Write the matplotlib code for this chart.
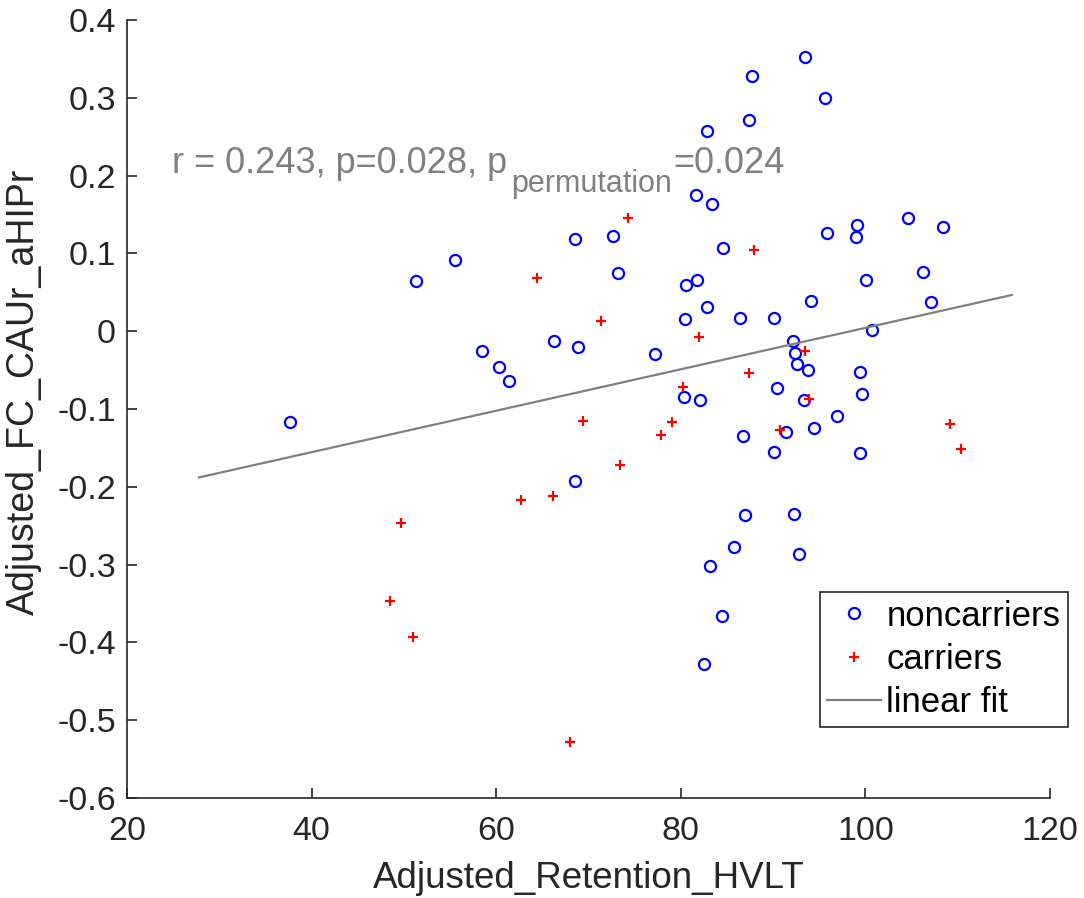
import numpy as np
import matplotlib
matplotlib.use('agg')
import matplotlib.pyplot as plt

# noncarriers (blue circles)
nc_x = [37.7, 51.3, 55.5, 58.5, 60.3, 61.4, 66.3, 68.9, 68.5, 68.5,
        72.7, 73.2, 77.2, 81.6, 83.4, 82.8, 87.4, 87.7, 93.5, 95.6,
        84.6, 81.8, 80.6, 82.8, 80.5, 86.4, 90.1, 94.1, 95.8, 99.1,
        99.0, 104.6, 108.4, 106.2, 100.1, 107.1, 100.7, 92.2, 92.4, 92.6,
        93.8, 99.4, 90.4, 99.6, 80.4, 82.1, 93.3, 96.9, 94.4, 91.4,
        86.7, 90.1, 99.4, 87.0, 92.3, 85.8, 92.8, 83.2, 84.5, 82.5]
nc_y = [-0.117, 0.064, 0.092, -0.025, -0.046, -0.064, -0.012, -0.020, 0.118, -0.193,
        0.122, 0.075, -0.029, 0.175, 0.163, 0.257, 0.271, 0.328, 0.352, 0.300,
        0.107, 0.066, 0.059, 0.031, 0.016, 0.017, 0.017, 0.039, 0.126, 0.137,
        0.121, 0.146, 0.134, 0.076, 0.066, 0.037, 0.001, -0.013, -0.028, -0.042,
        -0.050, -0.052, -0.073, -0.081, -0.084, -0.088, -0.089, -0.109, -0.125, -0.129,
        -0.135, -0.155, -0.156, -0.236, -0.235, -0.278, -0.287, -0.302, -0.366, -0.428]

# carriers (red plus)
c_x = [64.4, 74.3, 87.9, 71.4, 82.0, 93.5, 87.4, 80.2, 93.9, 69.4, 79.0,
       77.9, 73.4, 90.8, 109.2, 110.4, 62.7, 66.2, 49.7, 48.5, 51.0, 68.0]
c_y = [0.068, 0.146, 0.104, 0.013, -0.008, -0.026, -0.054, -0.072, -0.087, -0.116, -0.117,
       -0.134, -0.172, -0.127, -0.119, -0.151, -0.217, -0.212, -0.247, -0.347, -0.393, -0.528]

# linear fit
fit_slope = 0.002663
fit_intercept = -0.262
fit_range = [27.8, 115.85]

stat_text = 'r = 0.243, p=0.028, p'
stat_sub = 'permutation'
stat_end = '=0.024'

x_ticks = [20, 40, 60, 80, 100, 120]
y_ticks = [-0.6, -0.5, -0.4, -0.3, -0.2, -0.1, 0, 0.1, 0.2, 0.3, 0.4]

plt.rcParams['font.family'] = ['Liberation Sans', 'DejaVu Sans']
plt.rcParams['axes.unicode_minus'] = False
dark = '#262626'

fig = plt.figure(figsize=(10.84, 8.98), dpi=100)
ax = fig.add_axes([127/1084, 1-798/898, 923/1084, 778/898])

ax.plot(nc_x, nc_y, 'o', mfc='none', mec='blue', ms=8, mew=1.6, label='noncarriers')
ax.plot(c_x, c_y, '+', color='red', ms=7.5, mew=1.6, label='carriers')
fx = np.array(fit_range)
ax.plot(fx, fit_slope*fx + fit_intercept, color='#808080', lw=1.6, label='linear fit')

ax.set_xlim(20, 120)
ax.set_ylim(-0.6, 0.4)
ax.set_xticks(x_ticks)
ax.set_yticks(y_ticks)
ax.set_yticklabels(['%g' % v for v in y_ticks])
ax.spines['top'].set_visible(False)
ax.spines['right'].set_visible(False)
for s in ['left', 'bottom']:
    ax.spines[s].set_color(dark)
    ax.spines[s].set_linewidth(1.2)
ax.tick_params(direction='in', length=7, width=1.2, color=dark, labelcolor=dark, labelsize=24.5)
ax.tick_params(axis='x', pad=13)
ax.tick_params(axis='y', pad=8)

ax.set_xlabel('Adjusted_Retention_HVLT', fontsize=26.5, color=dark)
ax.set_ylabel('Adjusted_FC_CAUr_aHIPr', fontsize=27, color=dark)
ax.xaxis.set_label_coords(0.5, -0.103)
ax.xaxis.label.set_va('center')
ax.yaxis.set_label_coords(-0.1116, 0.522)
ax.yaxis.label.set_va('center')

gray = '#808080'
t1 = ax.text(24.9, 0.203, stat_text, fontsize=26, color=gray, va='baseline')
t2 = ax.annotate(stat_sub, xy=(1, 0.203), xycoords=(t1, 'data'), xytext=(2.5, -13.2),
                 textcoords='offset points', fontsize=22, color=gray, va='baseline')
ax.annotate(stat_end, xy=(1, 0.203), xycoords=(t2, 'data'), xytext=(1, 0),
            textcoords='offset points', fontsize=26, color=gray, va='baseline')

leg = ax.legend(loc='lower right', bbox_to_anchor=(1068/1084, 1-727/898),
                bbox_transform=fig.transFigure, borderaxespad=0, fontsize=25,
                numpoints=1, handlelength=1.55, handletextpad=0.15,
                labelspacing=0.3, borderpad=0.22, fancybox=False, framealpha=1)
leg.get_frame().set_edgecolor(dark)
leg.get_frame().set_linewidth(1.2)

fig.savefig('out.png', dpi=100)
